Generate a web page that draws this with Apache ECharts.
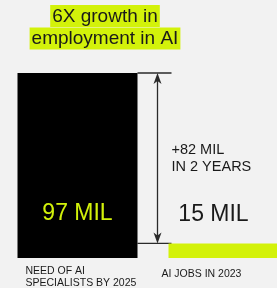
<!DOCTYPE html>
<html>
<head>
<meta charset="utf-8">
<script src="https://cdn.jsdelivr.net/npm/echarts@6/dist/echarts.min.js"></script>
<style>
  html, body { margin: 0; padding: 0; background: #f2f2f2; }
  #chart { width: 277px; height: 288px; }
</style>
</head>
<body>
<div id="chart"></div>
<script>
// chart data
var titleLines = ['6X growth in', 'employment in AI'];
var categories = ['NEED OF AI\nSPECIALISTS BY 2025', 'AI JOBS IN 2023'];
var values = [97, 15];
var unit = 'MIL';
var growthNote = 'IN 2 YEARS';

var LIME = '#d3f20a';
var INK = '#1a1a1a';
var FONT = '"Liberation Sans", Arial, sans-serif';
var BAR_W = 120;

var chart = echarts.init(document.getElementById('chart'));

chart.setOption({
    backgroundColor: '#f2f2f2',
    animation: false,
    // grid runs past the right edge so the lime bar is cut off like the original
    grid: { left: 2, width: 302, top: 73, bottom: 30, outerBoundsMode: 'none', containLabel: false },
    xAxis: { type: 'category', data: categories, show: false },
    // infographic is not to scale: baseline sits at 8
    yAxis: { type: 'value', min: 8, max: 97, show: false },
    series: [{
        type: 'bar',
        barWidth: BAR_W,
        label: {
            show: true,
            fontSize: 23,
            fontFamily: FONT,
            formatter: function (p) {
                return p.value + ' ' + unit;
            }
        },
        data: [
            {
                value: values[0],
                itemStyle: { color: '#000' },
                label: { position: 'insideBottom', distance: 33, color: LIME }
            },
            {
                value: values[1],
                itemStyle: { color: LIME },
                label: { position: 'top', distance: 17, offset: [-15, 0], color: INK }
            }
        ]
    }]
});

// positions from the chart's own scales
var top0 = chart.convertToPixel({ gridIndex: 0 }, [0, values[0]]);
var top1 = chart.convertToPixel({ gridIndex: 0 }, [1, values[1]]);
var barRight = top0[0] + BAR_W / 2;
var barLeft = top0[0] - BAR_W / 2;
var limeLeft = top1[0] - BAR_W / 2;
var ax = barRight + 20;
var lineEnd = limeLeft + 3;
var yTop = top0[1], yBot = top1[1];
var lineStyle = { stroke: '#2a2a2a', lineWidth: 1.3 };

var graphics = [];

// title with per-line highlight
titleLines.forEach(function (t, i) {
    graphics.push({
        type: 'text',
        x: 105, y: 5 + i * 22.5,
        style: {
            text: t, font: '19px ' + FONT, fill: INK,
            align: 'center', verticalAlign: 'top',
            backgroundColor: LIME, padding: [2, 2, 1, 2]
        }
    });
});

// guide lines and arrow
graphics.push(
    { type: 'line', shape: { x1: barRight, y1: yTop, x2: lineEnd, y2: yTop }, style: lineStyle },
    { type: 'line', shape: { x1: barRight, y1: yBot, x2: lineEnd, y2: yBot }, style: lineStyle },
    { type: 'line', shape: { x1: ax, y1: yTop + 4, x2: ax, y2: yBot - 4 }, style: lineStyle },
    {
        type: 'polygon',
        shape: { points: [[ax, yTop], [ax - 4, yTop + 11], [ax, yTop + 8], [ax + 4, yTop + 11]] },
        style: { fill: '#2a2a2a' }
    },
    {
        type: 'polygon',
        shape: { points: [[ax, yBot], [ax - 4, yBot - 11], [ax, yBot - 8], [ax + 4, yBot - 11]] },
        style: { fill: '#2a2a2a' }
    },
    {
        type: 'text',
        x: lineEnd, y: (yTop + yBot) / 2,
        style: {
            text: '+' + (values[0] - values[1]) + ' ' + unit + '\n' + growthNote,
            font: '14.5px ' + FONT, fill: INK, lineHeight: 17,
            align: 'left', verticalAlign: 'middle'
        }
    }
);

// category captions below the bars
graphics.push(
    {
        type: 'text', x: barLeft + 8, y: 264.5,
        style: { text: categories[0], font: '10.5px ' + FONT, fill: INK, lineHeight: 12.7, verticalAlign: 'top' }
    },
    {
        type: 'text', x: limeLeft - 7, y: 268,
        style: { text: categories[1], font: '10.5px ' + FONT, fill: INK, lineHeight: 12.7, verticalAlign: 'top' }
    }
);

chart.setOption({ graphic: graphics });
</script>
</body>
</html>
